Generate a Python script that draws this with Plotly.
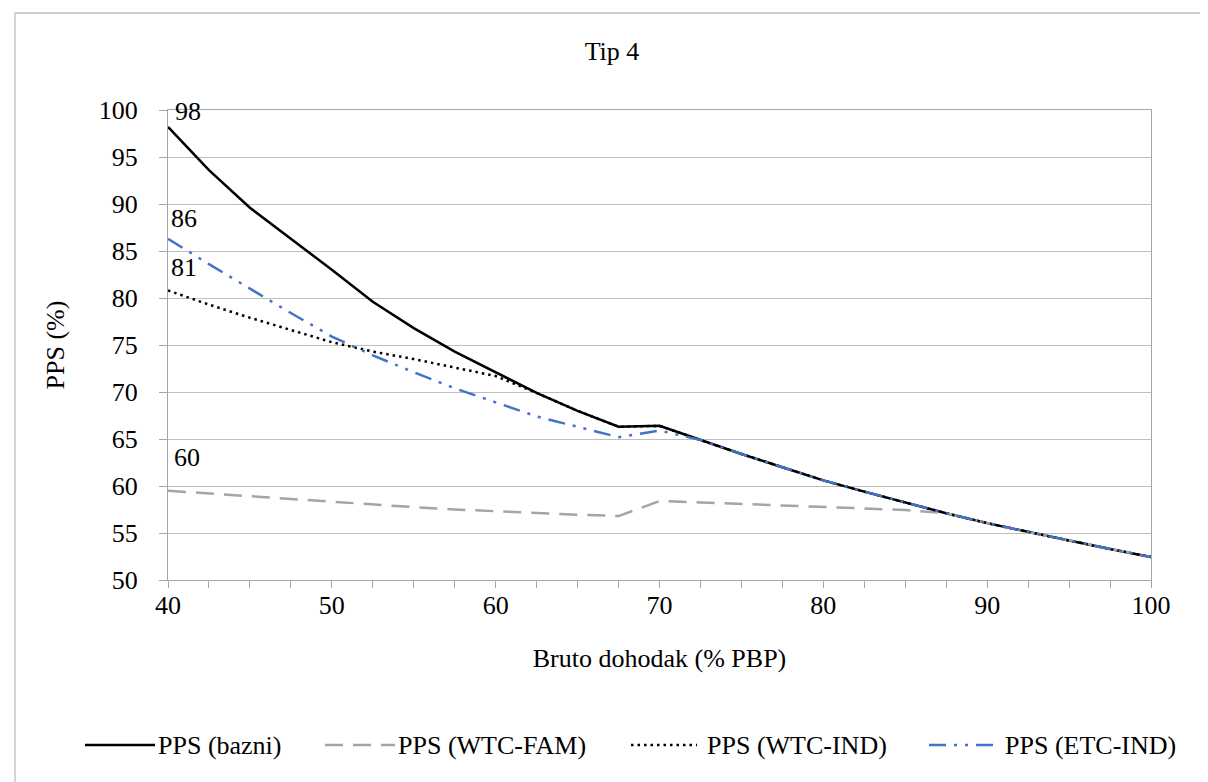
import plotly.graph_objects as go

# ---- data ----
x_vals = [40, 42.5, 45, 47.5, 50, 52.5, 55, 57.5, 60, 62.5, 65, 67.5, 70,
          72.5, 75, 77.5, 80, 82.5, 85, 87.5, 90, 92.5, 95, 97.5, 100]

pps_bazni = [98.2, 93.6, 89.6, 86.3, 83.0, 79.6, 76.8, 74.3, 72.1, 69.9, 68.0, 66.3, 66.4,
             64.9, 63.4, 62.0, 60.6, 59.4, 58.25, 57.1, 56.05, 55.1, 54.2, 53.3, 52.45]
pps_wtc_fam = [59.5, 59.2, 58.9, 58.6, 58.3, 58.0, 57.75, 57.5, 57.3, 57.1, 56.95, 56.8, 58.4,
               58.25, 58.1, 57.95, 57.8, 57.6, 57.45, 57.1, 56.05, 55.1, 54.2, 53.3, 52.45]
pps_wtc_ind = [80.8, 79.3, 77.9, 76.6, 75.3, 74.3, 73.5, 72.6, 71.7, 69.9, 68.0, 66.3, 66.4,
               64.9, 63.4, 62.0, 60.6, 59.4, 58.25, 57.1, 56.05, 55.1, 54.2, 53.3, 52.45]
pps_etc_ind = [86.3, 83.6, 81.0, 78.4, 75.9, 73.9, 72.1, 70.4, 68.9, 67.4, 66.3, 65.2, 65.9,
               64.9, 63.4, 62.0, 60.6, 59.4, 58.25, 57.1, 56.05, 55.1, 54.2, 53.3, 52.45]

series_names = ["PPS (bazni)", "PPS (WTC-FAM)", "PPS (WTC-IND)", "PPS (ETC-IND)"]
x_tick_vals = [40, 50, 60, 70, 80, 90, 100]
y_tick_vals = [50, 55, 60, 65, 70, 75, 80, 85, 90, 95, 100]

FONT = "Liberation Serif"
FS = 26

styles = [
    dict(color="#000000", width=2.5, dash="solid"),
    dict(color="#A5A5A5", width=2.5, dash="18px,10px"),
    dict(color="#000000", width=2.5, dash="2.5px,4px"),
    dict(color="#4472C4", width=2.5, dash="17px,8px,3px,8px,3px,8px"),
]
series = [pps_bazni, pps_wtc_fam, pps_wtc_ind, pps_etc_ind]

W, H = 1208, 782
L, R, T, B = 160, 65, 102, 210
pw, ph = W - L - R, H - T - B


def px_x(p):
    return (p - L) / pw


def px_y(p):
    return (H - B - p) / ph


fig = go.Figure()
for name, ys, st in zip(series_names, series, styles):
    fig.add_trace(go.Scatter(x=x_vals, y=ys, mode="lines", name=name, line=st,
                             showlegend=False))

# data labels at the first point of each series
label_shifts = [(20, 15), (19, 33), (16, 23), (16, 20)]
for ys, (dx, dy) in zip(series, label_shifts):
    fig.add_annotation(x=x_vals[0], y=ys[0], text=str(int(ys[0] + 0.5)), showarrow=False,
                       xshift=dx, yshift=dy, font=dict(family=FONT, size=FS, color="#000000"))

# legend (drawn below the plot, Excel style with long line samples)
leg_y = 737
leg_samples = [(77, 147, 148), (317, 387, 388), (623, 689, 697), (921, 991, 995)]
for name, st, (s0, s1, tx) in zip(series_names, styles, leg_samples):
    fig.add_shape(type="line", xref="paper", yref="paper",
                  x0=px_x(s0), x1=px_x(s1), y0=px_y(leg_y), y1=px_y(leg_y),
                  line=dict(color=st["color"], width=st["width"], dash=st["dash"]))
    fig.add_annotation(xref="paper", yref="paper", x=px_x(tx), y=px_y(leg_y),
                       text=name, showarrow=False, xanchor="left", yanchor="middle",
                       font=dict(family=FONT, size=FS, color="#000000"))

# outer chart border
bx0, bx1, by0, by1 = 7, 1200, 5, 776
fig.add_shape(type="rect", xref="paper", yref="paper",
              x0=px_x(bx0), x1=px_x(bx1), y0=px_y(by1), y1=px_y(by0),
              line=dict(color="#BFBFBF", width=1.3), layer="below")

fig.update_layout(
    width=W, height=H,
    margin=dict(l=L, r=R, t=T, b=B),
    paper_bgcolor="white", plot_bgcolor="white",
    font=dict(family=FONT, size=FS, color="#000000"),
    title=dict(text="Tip 4", x=0.5, xanchor="center", xref="container",
               y=1 - 43 / H, yanchor="middle", yref="container",
               font=dict(family=FONT, size=FS, color="#000000")),
    showlegend=False,
)

fig.update_xaxes(
    range=[40, 100], tickvals=x_tick_vals, ticks="outside", ticklen=7,
    tickcolor="#A6A6A6", showgrid=False, zeroline=False,
    showline=True, linecolor="#A6A6A6", linewidth=1.3, mirror=True,
    minor=dict(dtick=2.5, ticks="outside", ticklen=7, tickcolor="#A6A6A6", showgrid=False),
    ticklabelstandoff=-5,
    title=dict(text="Bruto dohodak (% PBP)", standoff=29,
               font=dict(family=FONT, size=FS, color="#000000")),
    tickfont=dict(family=FONT, size=FS, color="#000000"),
)
fig.update_yaxes(
    range=[50, 100], tickvals=y_tick_vals, ticks="outside", ticklen=8,
    tickcolor="#A6A6A6", showgrid=True, gridcolor="#BFBFBF", gridwidth=1.3,
    zeroline=False, showline=True, linecolor="#A6A6A6", linewidth=1.3, mirror=True,
    ticklabelstandoff=16,
    title=dict(text="PPS (%)", standoff=26,
               font=dict(family=FONT, size=FS, color="#000000")),
    tickfont=dict(family=FONT, size=FS, color="#000000"),
)

fig.write_html("out.html")
